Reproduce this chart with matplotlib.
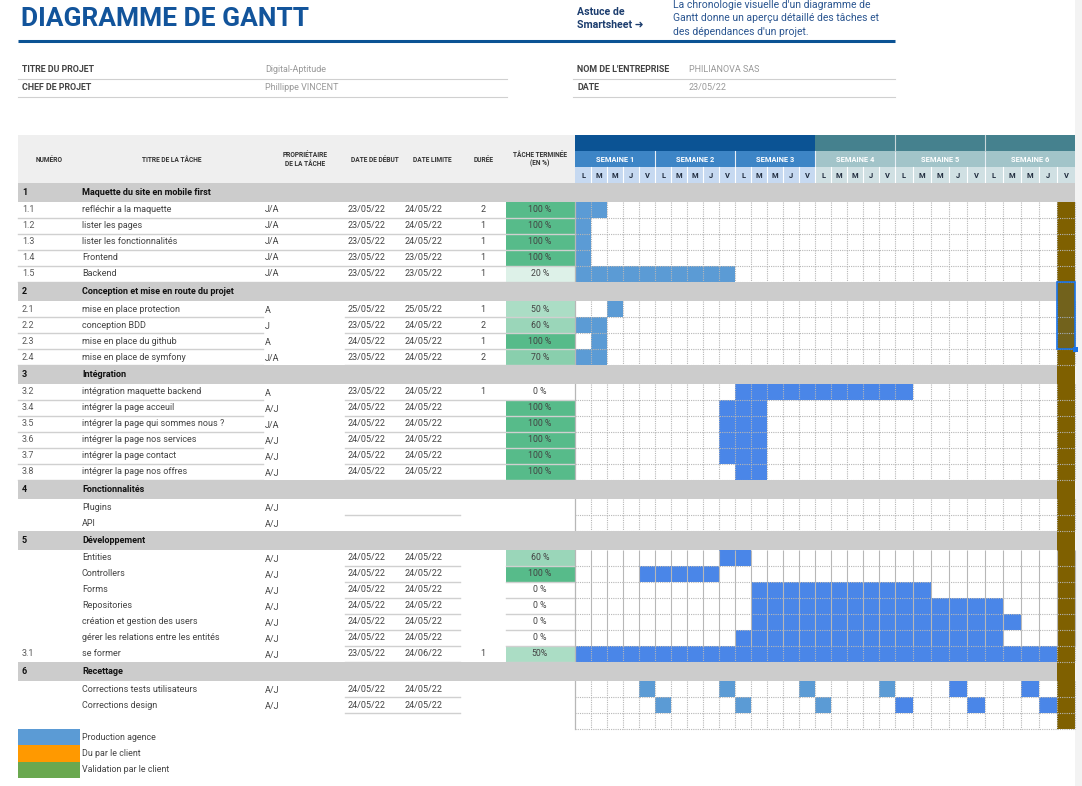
import numpy as np
import matplotlib.pyplot as plt
from matplotlib.patches import Rectangle

plt.rcParams['font.family'] = ['Roboto', 'DejaVu Sans']

# table rows, top to bottom (S = section row, T = task row)
kinds = ['S', 'T', 'T', 'T', 'T', 'T',
         'S', 'T', 'T', 'T', 'T',
         'S', 'T', 'T', 'T', 'T', 'T', 'T',
         'S', 'T', 'T',
         'S', 'T', 'T', 'T', 'T', 'T', 'T', 'T',
         'S', 'T', 'T']
numbers = ['1', '1.1', '1.2', '1.3', '1.4', '1.5',
           '2', '2.1', '2.2', '2.3', '2.4',
           '3', '3.2', '3.4', '3.5', '3.6', '3.7', '3.8',
           '4', '', '',
           '5', '', '', '', '', '', '', '3.1',
           '6', '', '']
titles = ['Maquette du site en mobile first', 'refléchir a la maquette', 'lister les pages',
          'lister les fonctionnalités', 'Frontend', 'Backend',
          'Conception et mise en route du projet', 'mise en place protection', 'conception BDD',
          'mise en place du github', 'mise en place de symfony',
          'Intégration', 'intégration maquette backend', 'intégrer la page acceuil',
          'intégrer la page qui sommes nous ?', 'intégrer la page nos services',
          'intégrer la page contact', 'intégrer la page nos offres',
          'Fonctionnalités', 'Plugins', 'API',
          'Développement', 'Entities', 'Controllers', 'Forms', 'Repositories',
          'création et gestion des users', 'gérer les relations entre les entités', 'se former',
          'Recettage', 'Corrections tests utilisateurs', 'Corrections design']
owners = ['', 'J/A', 'J/A', 'J/A', 'J/A', 'J/A',
          '', 'A', 'J', 'A', 'J/A',
          '', 'A', 'A/J', 'J/A', 'A/J', 'A/J', 'A/J',
          '', 'A/J', 'A/J',
          '', 'A/J', 'A/J', 'A/J', 'A/J', 'A/J', 'A/J', 'A/J',
          '', 'A/J', 'A/J']
starts = ['', '23/05/22', '23/05/22', '23/05/22', '23/05/22', '23/05/22',
          '', '25/05/22', '23/05/22', '24/05/22', '23/05/22',
          '', '23/05/22', '24/05/22', '24/05/22', '24/05/22', '24/05/22', '24/05/22',
          '', '', '',
          '', '24/05/22', '24/05/22', '24/05/22', '24/05/22', '24/05/22', '24/05/22', '23/05/22',
          '', '24/05/22', '24/05/22']
ends = ['', '24/05/22', '24/05/22', '24/05/22', '23/05/22', '23/05/22',
        '', '25/05/22', '24/05/22', '24/05/22', '24/05/22',
        '', '24/05/22', '24/05/22', '24/05/22', '24/05/22', '24/05/22', '24/05/22',
        '', '', '',
        '', '24/05/22', '24/05/22', '24/05/22', '24/05/22', '24/05/22', '24/05/22', '24/06/22',
        '', '24/05/22', '24/05/22']
durations = ['', '2', '1', '1', '1', '1',
             '', '1', '2', '1', '2',
             '', '1', '', '', '', '', '',
             '', '', '',
             '', '', '', '', '', '', '', '1',
             '', '', '']
pct_text = ['', '100 %', '100 %', '100 %', '100 %', '20 %',
            '', '50 %', '60 %', '100 %', '70 %',
            '', '0 %', '100 %', '100 %', '100 %', '100 %', '100 %',
            '', '', '',
            '', '60 %', '100 %', '0 %', '0 %', '0 %', '0 %', '50%',
            '', '', '']
# filled day cells: (first day, last day, tone)
bars = [[], [(0, 1, 0)], [(0, 0, 0)], [(0, 0, 0)], [(0, 0, 0)], [(0, 9, 0)],
        [], [(2, 2, 0)], [(0, 1, 0)], [(1, 1, 0)], [(0, 1, 0)],
        [], [(10, 20, 1)], [(9, 11, 1)], [(9, 11, 1)], [(9, 11, 1)], [(9, 11, 1)], [(10, 11, 1)],
        [], [], [],
        [], [(9, 10, 1)], [(4, 8, 1)], [(11, 21, 1)], [(11, 25, 1)], [(11, 26, 1)], [(10, 25, 1)],
        [(0, 28, 1)],
        [], [(4, 4, 0), (9, 9, 0), (14, 14, 0), (19, 19, 0), (23, 23, 1), (27, 27, 1)],
        [(5, 5, 0), (10, 10, 0), (15, 15, 0), (20, 20, 1), (24, 24, 1), (28, 28, 1)]]
solid_grid_rows = ['Entities', 'Controllers', 'Forms', 'Repositories',
                   'création et gestion des users', 'gérer les relations entre les entités']

weeks = ['SEMAINE 1', 'SEMAINE 2', 'SEMAINE 3', 'SEMAINE 4', 'SEMAINE 5', 'SEMAINE 6']
days = ['L', 'M', 'M', 'J', 'V']
legend_labels = ['Production agence', 'Du par le client', 'Validation par le client']
legend_colors = ['#5b9bd5', '#ff9900', '#6aa84f']

info_left = [('TITRE DU PROJET', 'Digital-Aptitude'), ('CHEF DE PROJET', 'Phillippe VINCENT')]
info_right = [("NOM DE L'ENTREPRISE", 'PHILIANOVA SAS'), ('DATE', '23/05/22')]

tones = ['#5b9bd5', '#4a86e8']
grid_c = '#b7b7b7'
line_c = '#d0d0d0'
txt_c = '#434343'
fs = 6.5

fig = plt.figure(figsize=(10.82, 7.86), dpi=100)
ax = fig.add_axes([0, 0, 1, 1])
ax.set_xlim(0, 1082)
ax.set_ylim(786, 0)
ax.axis('off')


def box(x0, y0, x1, y1, color, z=1, **kw):
    ax.add_patch(Rectangle((x0, y0), x1 - x0, y1 - y0, facecolor=color,
                           edgecolor='none', zorder=z, **kw))


def pct_color(txt):
    v = float(txt.replace('%', '').strip()) / 100
    c0 = np.array([255, 255, 255])
    c1 = np.array([87, 187, 138])
    return tuple((c0 + (c1 - c0) * v) / 255)


# right strip
box(1075, 0, 1082, 786, '#f3f3f3', z=0)

# title block
ax.text(21, 19, 'DIAGRAMME DE GANTT', fontsize=19, fontweight='bold', color='#12549b', va='center')
ax.plot([18, 895], [40.5, 40.5], color='#0b5394', lw=2.2, solid_capstyle='butt')
ax.text(577, 12, 'Astuce de', fontsize=7.6, fontweight='bold', color='#1c3d6e', va='center')
ax.text(577, 25, 'Smartsheet ➜', fontsize=7.6, fontweight='bold', color='#1c3d6e', va='center')
desc = ["La chronologie visuelle d'un diagramme de",
        'Gantt donne un aperçu détaillé des tâches et',
        "des dépendances d'un projet."]
for i, line in enumerate(desc):
    ax.text(673, 5 + 13.3 * i, line, fontsize=7.5, color='#2a5590', va='center')

for i, (lab, val) in enumerate(info_left):
    y = 69 + 18.5 * i
    ax.text(22, y, lab, fontsize=6.4, fontweight='bold', color=txt_c, va='center')
    ax.text(265, y, val, fontsize=6.5, color='#999999', va='center')
    ax.plot([18, 507], [y + 9.5, y + 9.5], color=line_c, lw=0.8)
for i, (lab, val) in enumerate(info_right):
    y = 69 + 18.5 * i
    ax.text(577, y, lab, fontsize=6.4, fontweight='bold', color=txt_c, va='center')
    ax.text(689, y, val, fontsize=6.5, color='#999999', va='center')
    ax.plot([573, 895], [y + 9.5, y + 9.5], color=line_c, lw=0.8)

# table header
box(18, 135, 575, 183, '#efefef')
hdr = [(49, 'NUMÉRO'), (172, 'TITRE DE LA TÂCHE'), (305, 'PROPRIÉTAIRE\nDE LA TÂCHE'),
       (375, 'DATE DE DÉBUT'), (432, 'DATE LIMITE'), (484, 'DURÉE'), (540, 'TÂCHE TERMINÉE\n(EN %)')]
for x, t in hdr:
    ax.text(x, 159.5, t, fontsize=4.8, fontweight='bold', color='#333333', ha='center', va='center',
            linespacing=1.05)

# gantt columns
day_w = [16, 16, 16, 16, 18, 18]
widths = np.repeat(day_w, len(days))
col_edges = np.concatenate([[575], 575 + np.cumsum(widths)])
g0, g1 = col_edges[0], col_edges[-1]

band_dark = ['#0b5394'] * 3 + ['#45818e'] * 3
band_mid = ['#3d85c6'] * 3 + ['#a2c4c9'] * 3
band_light = ['#c6d9f1'] * 3 + ['#d0e0e3'] * 3
for w, name in enumerate(weeks):
    wx0, wx1 = col_edges[5 * w], col_edges[5 * w + 5]
    box(wx0, 135, wx1, 151, band_dark[w])
    box(wx0, 151, wx1, 167, band_mid[w])
    box(wx0, 167, wx1, 183, band_light[w])
    ax.text((wx0 + wx1) / 2, 159.5, name, fontsize=5.4, fontweight='bold', color='white',
            ha='center', va='center', zorder=3)
    if w > 0:
        ax.plot([wx0, wx0], [151, 167], color='#e8eef4', lw=0.8, zorder=2)
    if w > 3:
        ax.plot([wx0, wx0], [135, 151], color='#c8d6d9', lw=0.8, zorder=2)
    for d, letter in enumerate(days):
        cx0, cx1 = col_edges[5 * w + d], col_edges[5 * w + d + 1]
        ax.text((cx0 + cx1) / 2, 175.5, letter, fontsize=5.4, fontweight='bold', color='#1f2a3c',
                ha='center', va='center', zorder=3)
        if d > 0 or w > 0:
            ax.plot([cx0, cx0], [167, 183], color='white', lw=0.8, zorder=2)

# rows
y = 183
section = 0
for i, kind in enumerate(kinds):
    if kind == 'S':
        h = 19
        section += 1
        right = g1 if section == 1 else col_edges[-2]
        box(18, y, right, y + h, '#cccccc', z=4)
        ax.text(22, y + h / 2, numbers[i], fontsize=fs, fontweight='bold', color='#111111',
                va='center', zorder=5)
        ax.text(82, y + h / 2, titles[i], fontsize=fs, fontweight='bold', color='#111111',
                va='center', zorder=5)
        y += h
        continue
    h = 16
    yc = y + h / 2
    dy = 0 if section == 1 else 1.8
    ax.text(22, yc, numbers[i], fontsize=fs, color='#595959', va='center')
    ax.text(82, yc, titles[i], fontsize=fs, color=txt_c, va='center')
    ax.text(265, yc + dy, owners[i], fontsize=fs, color=txt_c, va='center')
    ax.text(348, yc, starts[i], fontsize=fs, color=txt_c, va='center')
    ax.text(405, yc, ends[i], fontsize=fs, color=txt_c, va='center')
    ax.text(483, yc, durations[i], fontsize=fs, color=txt_c, va='center', ha='center')
    if pct_text[i]:
        box(506, y, 575, y + h, pct_color(pct_text[i]))
        ax.text(540, yc, pct_text[i], fontsize=6.3, color=txt_c, va='center', ha='center', zorder=3)
    # table separators
    if section == 1:
        segs = [(18, 575)]
    elif section in (2, 3):
        segs = [(18, 263), (345, 575)]
    elif section == 4:
        segs = [(345, 460)] if titles[i] == 'Plugins' else []
    else:
        segs = [(345, 460)]
        if pct_text[i]:
            segs.append((506, 575))
    for a, b in segs:
        ax.plot([a, b], [y + h, y + h], color=line_c, lw=1, zorder=2)
    # gantt cells
    for first, last, tone in bars[i]:
        box(col_edges[first], y, col_edges[last + 1], y + h, tones[tone])
    ls = '-' if titles[i] in solid_grid_rows else (0, (1, 1))
    ax.vlines(col_edges[1:], y, y + h, colors=grid_c, lw=0.8, linestyles=ls, zorder=3)
    ax.hlines(y + h, g0, g1, colors=grid_c, lw=0.8, linestyles=(0, (1, 1)), zorder=3)
    y += h

# trailing empty gantt row
ax.vlines(col_edges[1:], y, y + 16, colors=grid_c, lw=0.8, linestyles=(0, (1, 1)), zorder=3)
ax.hlines(y + 16, g0, g1, colors=grid_c, lw=0.8, linestyles=(0, (1, 1)), zorder=3)
bottom = y + 16
ax.plot([g0, g0], [202, bottom], color=grid_c, lw=0.9, zorder=3)

# last day column (brown) and selection
box(col_edges[-2], 202, col_edges[-1], bottom, '#7f6000', z=2)
box(col_edges[-2], 282, col_edges[-1], 349, '#1a73e8', z=5, alpha=0.12)
ax.add_patch(Rectangle((col_edges[-2], 282), col_edges[-1] - col_edges[-2], 67, facecolor='none',
                       edgecolor='#1a73e8', lw=1.2, zorder=6))
box(col_edges[-1] - 2.5, 346.5, col_edges[-1] + 2.5, 351.5, '#1a73e8', z=7)

# legend
for k, (lab, c) in enumerate(zip(legend_labels, legend_colors)):
    ly = 729 + 16.3 * k
    box(18, ly, 80, ly + 16.3, c)
    ax.text(82, ly + 8, lab, fontsize=6.4, color=txt_c, va='center')

fig.savefig('out.png', dpi=100)
